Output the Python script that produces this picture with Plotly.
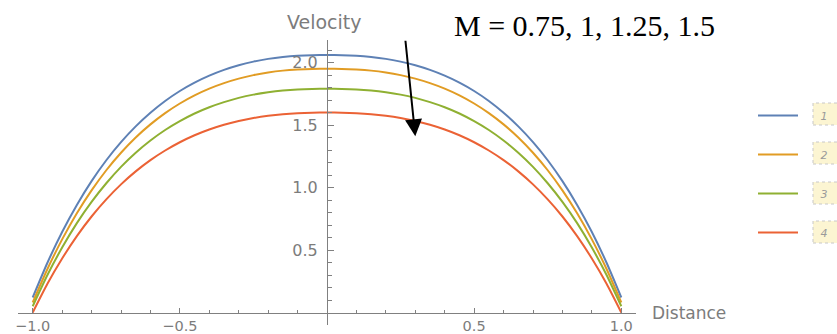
import plotly.graph_objects as go

# ---------------- data ----------------
distance = [-1.0, -0.95, -0.9, -0.85, -0.8, -0.75, -0.7, -0.65, -0.6, -0.55, -0.5,
            -0.45, -0.4, -0.35, -0.3, -0.25, -0.2, -0.15, -0.1, -0.05, 0.0,
            0.05, 0.1, 0.15, 0.2, 0.25, 0.3, 0.35, 0.4, 0.45, 0.5,
            0.55, 0.6, 0.65, 0.7, 0.75, 0.8, 0.85, 0.9, 0.95, 1.0]
vel_1 = [0.120, 0.398, 0.644, 0.861, 1.051, 1.218, 1.363, 1.489, 1.598, 1.692, 1.772,
         1.839, 1.895, 1.941, 1.978, 2.007, 2.029, 2.044, 2.054, 2.059, 2.060,
         2.059, 2.054, 2.044, 2.029, 2.007, 1.978, 1.941, 1.895, 1.839, 1.772,
         1.692, 1.598, 1.489, 1.363, 1.218, 1.051, 0.861, 0.644, 0.398, 0.120]
vel_2 = [0.080, 0.348, 0.585, 0.794, 0.977, 1.138, 1.278, 1.400, 1.505, 1.595, 1.672,
         1.737, 1.791, 1.835, 1.871, 1.899, 1.920, 1.935, 1.944, 1.949, 1.950,
         1.949, 1.944, 1.935, 1.920, 1.899, 1.871, 1.835, 1.791, 1.737, 1.672,
         1.595, 1.505, 1.400, 1.278, 1.138, 0.977, 0.794, 0.585, 0.348, 0.080]
vel_3 = [0.050, 0.300, 0.520, 0.715, 0.885, 1.034, 1.165, 1.278, 1.376, 1.460, 1.531,
         1.592, 1.642, 1.683, 1.717, 1.743, 1.762, 1.776, 1.785, 1.789, 1.790,
         1.789, 1.785, 1.776, 1.762, 1.743, 1.717, 1.683, 1.642, 1.592, 1.531,
         1.460, 1.376, 1.278, 1.165, 1.034, 0.885, 0.715, 0.520, 0.300, 0.050]
vel_4 = [0.000, 0.230, 0.432, 0.611, 0.768, 0.905, 1.025, 1.129, 1.219, 1.296, 1.362,
         1.418, 1.464, 1.502, 1.532, 1.556, 1.574, 1.587, 1.595, 1.599, 1.600,
         1.599, 1.595, 1.587, 1.574, 1.556, 1.532, 1.502, 1.464, 1.418, 1.362,
         1.296, 1.219, 1.129, 1.025, 0.905, 0.768, 0.611, 0.432, 0.230, 0.000]
series_names = ["1", "2", "3", "4"]
series_colors = ["#5E81B5", "#E19C24", "#8FB032", "#EB6235"]

x_major = [-1.0, -0.5, 0.5, 1.0]
x_major_text = ["−1.0", "−0.5", "0.5", "1.0"]
x_minor = [-0.9, -0.8, -0.7, -0.6, -0.4, -0.3, -0.2, -0.1, 0.1, 0.2, 0.3, 0.4, 0.6, 0.7, 0.8, 0.9]
y_major = [0.5, 1.0, 1.5, 2.0]
y_major_text = ["0.5", "1.0", "1.5", "2.0"]
y_minor = [-0.1, 0.1, 0.2, 0.3, 0.4, 0.6, 0.7, 0.8, 0.9, 1.1, 1.2, 1.3, 1.4, 1.6, 1.7, 1.8, 1.9, 2.1]

annotation_text = "M = 0.75, 1, 1.25, 1.5"

# ---------------- layout geometry ----------------
W, H = 837, 334
L, R, T, B = 18, 636, 40, 325
X_RANGE = [-1.05, 1.05]
Y_RANGE = [-0.1, 2.18]

def px_x(p):
    return (p - L) / (R - L)

def px_y(p):
    return (B - p) / (B - T)

AX = "#808080"
TXT = "#7c7c7c"

fig = go.Figure()
for name, vals, col in zip(series_names, [vel_1, vel_2, vel_3, vel_4], series_colors):
    fig.add_trace(go.Scatter(
        x=distance, y=vals, mode="lines", name="\u00a0" * 5 + name, legendgroup=name,
        line=dict(color=col, width=2, shape="spline", smoothing=0.6),
    ))

fig.update_layout(
    width=W, height=H,
    margin=dict(l=L, r=W - R, t=T, b=H - B, pad=0, autoexpand=False),
    paper_bgcolor="white", plot_bgcolor="white",
    font=dict(family="DejaVu Sans", color=TXT),
    xaxis=dict(
        range=X_RANGE, anchor="free", automargin=False,
        position=(0 - Y_RANGE[0]) / (Y_RANGE[1] - Y_RANGE[0]),
        showgrid=False, zeroline=False, showline=True, linecolor=AX, linewidth=1,
        tickmode="array", tickvals=x_major, ticktext=x_major_text,
        ticks="inside", ticklen=5, tickcolor=AX, tickwidth=1, ticklabelstandoff=0,
        tickfont=dict(size=14.5, color=TXT),
        minor=dict(tickmode="array", tickvals=x_minor, ticks="inside", ticklen=3, tickcolor=AX),
    ),
    yaxis=dict(
        range=Y_RANGE, anchor="free", automargin=False,
        position=(0 - X_RANGE[0]) / (X_RANGE[1] - X_RANGE[0]),
        showgrid=False, zeroline=False, showline=True, linecolor=AX, linewidth=1,
        tickmode="array", tickvals=y_major, ticktext=y_major_text,
        ticks="inside", ticklen=6, tickcolor=AX, tickwidth=1, ticklabelstandoff=6,
        tickfont=dict(size=16, color=TXT),
        minor=dict(tickmode="array", tickvals=y_minor, ticks="inside", ticklen=4, tickcolor=AX),
    ),
    showlegend=True,
    legend=dict(
        x=px_x(753), y=px_y(101), xanchor="left", yanchor="top",
        bgcolor="rgba(0,0,0,0)", tracegroupgap=20, itemwidth=40,
        font=dict(size=11, color="#9a9a9a", style="italic"),
    ),
)

# axis labels and the M annotation
fig.add_annotation(text="Velocity", x=px_x(324.5), y=px_y(22), xref="paper", yref="paper",
                   xanchor="center", yanchor="middle", showarrow=False,
                   font=dict(size=19, color=TXT))
fig.add_annotation(text="Distance", x=px_x(650), y=px_y(312.5), xref="paper", yref="paper",
                   xanchor="left", yanchor="middle", showarrow=False,
                   font=dict(size=17, color=TXT))
fig.add_annotation(text=annotation_text, x=px_x(584), y=px_y(25), xref="paper", yref="paper",
                   xanchor="center", yanchor="middle", showarrow=False,
                   font=dict(family="Liberation Serif", size=30, color="black"))
# the drawn arrow
fig.add_annotation(text="", x=0.30, y=1.41, xref="x", yref="y", ax=-10, ay=-97,
                   showarrow=True, arrowhead=2, arrowsize=1.7, arrowwidth=2,
                   arrowcolor="black", standoff=0)

# yellow dashed boxes behind the legend labels
for cy in [114, 153, 193, 232]:
    fig.add_shape(type="rect", xref="paper", yref="paper",
                  x0=px_x(813), x1=px_x(850), y0=px_y(cy + 11), y1=px_y(cy - 11),
                  fillcolor="#fcf5d2", line=dict(color="#c8c8c8", width=1, dash="dot"),
                  layer="below")

fig.write_html(
    "out.html",
    config={"displayModeBar": False},
    post_script="document.body.style.margin='0';document.body.style.overflow='hidden';",
)
